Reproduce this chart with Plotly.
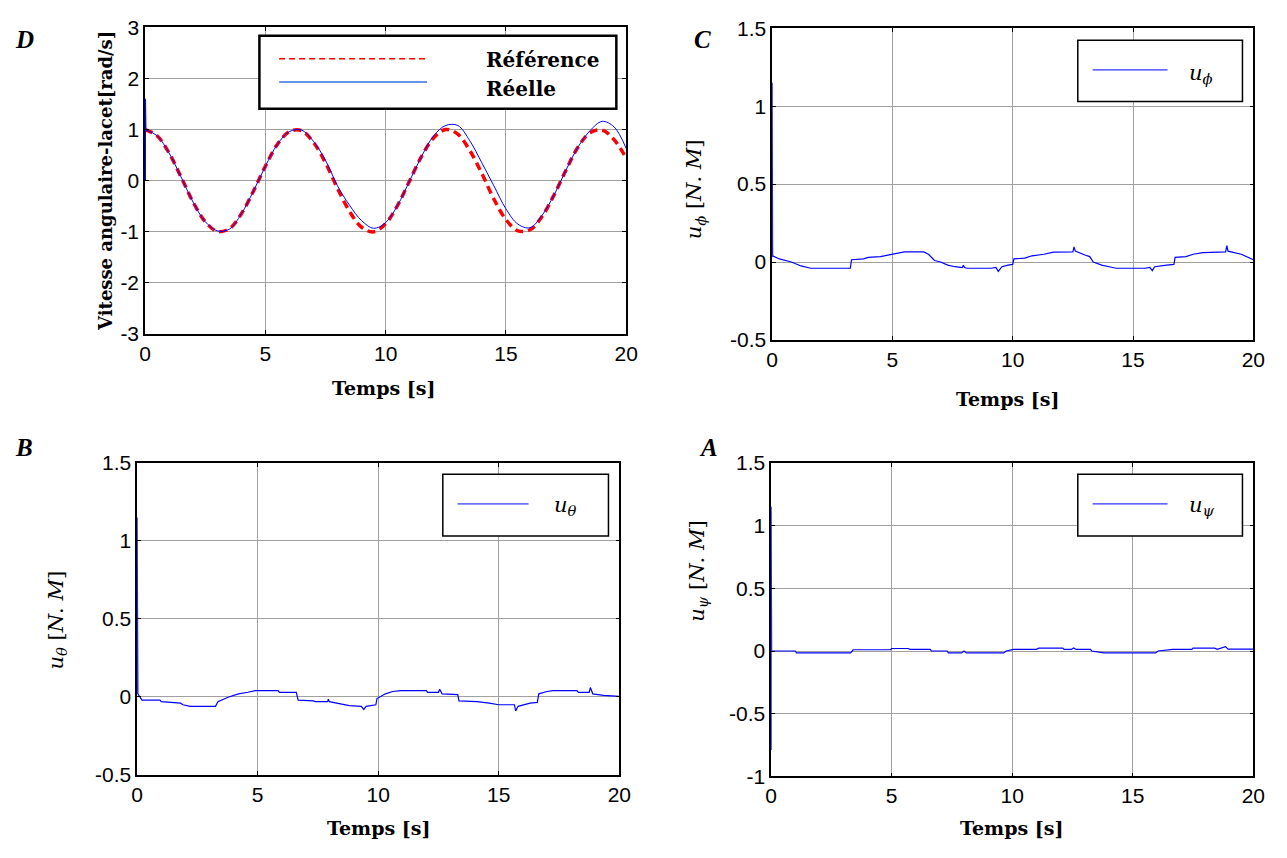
import plotly.graph_objects as go

W, H = 1287, 858

# ---------------- data ----------------
# Panel D : yaw angular velocity
t_d = [0, 0.5, 1, 1.5, 2, 2.5, 3, 3.5, 4, 4.5, 5, 5.5, 6, 6.5, 7, 7.5, 8, 8.5, 9, 9.5,
       10, 10.5, 11, 11.5, 12, 12.5, 13, 13.5, 14, 14.5, 15, 15.5, 16, 16.5, 17, 17.5,
       18, 18.5, 19, 19.5, 20]
ref_d = [1.00, 0.88, 0.54, 0.07, -0.42, -0.80, -0.99, -0.94, -0.65, -0.21, 0.28, 0.71,
         0.96, 0.98, 0.75, 0.35, -0.15, -0.60, -0.91, -1.00, -0.84, -0.48, 0.00, 0.48,
         0.84, 1.00, 0.91, 0.59, 0.14, -0.36, -0.76, -0.98, -0.96, -0.70, -0.28, 0.21,
         0.66, 0.94, 0.99, 0.80, 0.44]
real_d = [1.00, 0.88, 0.54, 0.07, -0.42, -0.80, -0.98, -0.95, -0.65, -0.21, 0.28, 0.71,
          0.96, 0.99, 0.77, 0.40, -0.10, -0.48, -0.78, -0.93, -0.82, -0.48, 0.00, 0.48,
          0.88, 1.08, 1.08, 0.78, 0.35, -0.10, -0.55, -0.85, -0.92, -0.68, -0.28, 0.21,
          0.66, 0.98, 1.16, 1.05, 0.63]
spike_d_t = [0, 0, 0.02]
spike_d_v = [0.0, 1.6, 1.0]

# Panel C : u_phi
t_c = [0, 0, 0.02, 0.3, 0.8, 1.2, 1.5, 1.6, 3.25, 3.3, 3.8, 4.0, 4.5, 4.8, 5.0, 5.5, 6.3,
       6.5, 6.75, 7.0, 7.3, 7.6, 7.9, 7.95, 8.0, 8.1, 9.1, 9.3, 9.4, 9.55, 9.8, 10.0,
       10.05, 10.5, 10.8, 11.3, 11.7, 12.5, 12.55, 12.6, 13.0, 13.2, 13.35, 13.7, 14.0,
       14.3, 15.5, 15.7, 15.8, 15.9, 16.4, 16.7, 16.75, 17.2, 17.5, 17.9, 18.85, 18.9,
       18.95, 19.5, 20.0]
u_c = [0.03, 1.15, 0.04, 0.02, 0.0, -0.025, -0.035, -0.04, -0.04, 0.015, 0.02, 0.03,
       0.035, 0.045, 0.05, 0.065, 0.065, 0.05, 0.01, 0.0, -0.02, -0.03, -0.035, -0.02,
       -0.035, -0.04, -0.04, -0.035, -0.06, -0.03, -0.02, -0.015, 0.02, 0.025, 0.04,
       0.05, 0.064, 0.065, 0.097, 0.07, 0.045, 0.035, 0.0, -0.02, -0.03, -0.04, -0.04,
       -0.035, -0.055, -0.03, -0.02, -0.015, 0.03, 0.035, 0.05, 0.06, 0.065, 0.105,
       0.07, 0.05, 0.015]

# Panel B : u_theta
t_b = [0, 0, 0.03, 0.2, 0.95, 1.0, 1.8, 1.9, 2.2, 3.25, 3.35, 3.8, 4.2, 4.6, 4.9, 5.85,
       5.9, 6.6, 6.68, 7.3, 7.4, 7.9, 7.93, 7.97, 8.3, 8.8, 9.3, 9.4, 9.5, 9.9, 9.95,
       10.3, 10.6, 10.95, 12.0, 12.05, 12.5, 12.55, 12.65, 13.3, 13.35, 14.1, 14.6,
       15.0, 15.65, 15.7, 15.8, 16.3, 16.6, 16.66, 17.0, 17.25, 18.25, 18.3, 18.75,
       18.8, 18.9, 19.35, 20.0]
u_b = [0.02, 1.15, 0.02, -0.02, -0.02, -0.03, -0.04, -0.05, -0.06, -0.06, -0.03, 0.0,
       0.02, 0.03, 0.04, 0.04, 0.03, 0.03, -0.02, -0.025, -0.03, -0.03, -0.015, -0.03,
       -0.04, -0.055, -0.06, -0.08, -0.06, -0.05, -0.01, 0.02, 0.035, 0.04, 0.04, 0.03,
       0.03, 0.05, 0.02, 0.015, -0.025, -0.03, -0.04, -0.05, -0.05, -0.09, -0.06, -0.04,
       -0.035, 0.02, 0.035, 0.04, 0.04, 0.03, 0.03, 0.06, 0.02, 0.01, 0.004]

# Panel A : u_psi
t_a = [0, 0, 0.02, 1.0, 1.05, 3.3, 3.4, 4.95, 5.0, 5.7, 5.75, 6.6, 6.65, 7.3, 7.35, 7.9,
       8.0, 8.1, 9.65, 9.75, 10.05, 11.0, 11.1, 12.1, 12.15, 12.45, 12.55, 12.65, 13.25,
       13.3, 13.8, 15.95, 16.05, 16.65, 17.45, 17.5, 18.4, 18.5, 18.85, 18.95, 20.0]
u_a = [-0.79, 1.15, 0.0, 0.0, -0.015, -0.015, 0.01, 0.01, 0.02, 0.02, 0.013, 0.013, 0.0,
       0.0, -0.015, -0.015, 0.0, -0.015, -0.015, 0.0, 0.013, 0.013, 0.023, 0.023, 0.013,
       0.013, 0.025, 0.013, 0.013, 0.0, -0.015, -0.015, 0.0, 0.013, 0.013, 0.023, 0.023,
       0.013, 0.035, 0.015, 0.015]

x_ticks = [0, 5, 10, 15, 20]
x_ticktext = ["0", "5", "10", "15", "20"]
yD_ticks = [-3, -2, -1, 0, 1, 2, 3]
yD_text = ["-3", "-2", "-1", "0", "1", "2", "3"]
yCB_ticks = [-0.5, 0, 0.5, 1, 1.5]
yCB_text = ["-0.5", "0", "0.5", "1", "1.5"]
yA_ticks = [-1, -0.5, 0, 0.5, 1, 1.5]
yA_text = ["-1", "-0.5", "0", "0.5", "1", "1.5"]

# ---------------- helpers ----------------
def px(x):
    return x / W

def py(y):
    return 1 - y / H

BLUE = "#0000ff"
TICKFONT = dict(family="Liberation Sans", size=21, color="black")
TITLEFONT = dict(family="DejaVu Serif", size=19, color="black")
MATHFONT = dict(family="DejaVu Serif", size=21, color="black")

def xaxis(x0, x1, anchor):
    return dict(domain=[px(x0), px(x1)], range=[0, 20], anchor=anchor,
                tickvals=x_ticks, ticktext=x_ticktext, ticks="inside", ticklen=4,
                tickcolor="black", mirror="ticks", showline=True, linecolor="black",
                linewidth=1.5, showgrid=True, gridcolor="#a0a0a0", gridwidth=1,
                zeroline=False, tickfont=TICKFONT, fixedrange=True)

def yaxis(y0, y1, rng, tv, tt, anchor):
    return dict(domain=[py(y1), py(y0)], range=rng, anchor=anchor,
                tickvals=tv, ticktext=tt, ticks="inside", ticklen=4,
                tickcolor="black", mirror="ticks", showline=True, linecolor="black",
                linewidth=1.5, showgrid=True, gridcolor="#a0a0a0", gridwidth=1,
                zeroline=False, tickfont=TICKFONT, fixedrange=True)

fig = go.Figure()

# Panel D
fig.add_trace(go.Scatter(x=t_d, y=ref_d, mode="lines", line=dict(color="#ff0000", width=3.5, dash="8px,5px", shape="spline"),
                         xaxis="x", yaxis="y", showlegend=False))
fig.add_trace(go.Scatter(x=t_d, y=real_d, mode="lines", line=dict(color=BLUE, width=1, shape="spline"),
                         xaxis="x", yaxis="y", showlegend=False))
fig.add_trace(go.Scatter(x=spike_d_t, y=spike_d_v, mode="lines", line=dict(color=BLUE, width=2),
                         xaxis="x", yaxis="y", showlegend=False))
# Panel C
fig.add_trace(go.Scatter(x=t_c, y=u_c, mode="lines", line=dict(color=BLUE, width=1.2),
                         xaxis="x2", yaxis="y2", showlegend=False))
# Panel B
fig.add_trace(go.Scatter(x=t_b, y=u_b, mode="lines", line=dict(color=BLUE, width=1.2),
                         xaxis="x3", yaxis="y3", showlegend=False))
# Panel A
fig.add_trace(go.Scatter(x=t_a, y=u_a, mode="lines", line=dict(color=BLUE, width=1.2),
                         xaxis="x4", yaxis="y4", showlegend=False))

# plot areas (pixels)
D = (141, 629, 15.7, 331)
C = (777, 1265, 16.7, 337)
B = (133, 622, 463.3, 784)
A = (776, 1265, 463.3, 785.5)

fig.update_layout(
    width=W, height=H, margin=dict(l=0, r=0, t=0, b=0),
    paper_bgcolor="white", plot_bgcolor="white",
    xaxis=xaxis(D[0], D[1], "y"),
    yaxis=yaxis(D[2], D[3], [-3, 3], yD_ticks, yD_text, "x"),
    xaxis2=xaxis(C[0], C[1], "y2"),
    yaxis2=yaxis(C[2], C[3], [-0.5, 1.5], yCB_ticks, yCB_text, "x2"),
    xaxis3=xaxis(B[0], B[1], "y3"),
    yaxis3=yaxis(B[2], B[3], [-0.5, 1.5], yCB_ticks, yCB_text, "x3"),
    xaxis4=xaxis(A[0], A[1], "y4"),
    yaxis4=yaxis(A[2], A[3], [-1, 1.5], yA_ticks, yA_text, "x4"),
    showlegend=False,
)

shapes = []
annotations = []

def box(x0, y0, x1, y1, w):
    shapes.append(dict(type="rect", xref="paper", yref="paper", x0=px(x0), x1=px(x1),
                       y0=py(y1), y1=py(y0), line=dict(color="black", width=w),
                       fillcolor="white", layer="above"))

def seg(x0, x1, y, color, w, dash="solid"):
    shapes.append(dict(type="line", xref="paper", yref="paper", x0=px(x0), x1=px(x1),
                       y0=py(y), y1=py(y), line=dict(color=color, width=w, dash=dash),
                       layer="above"))

def text(x, y, s, font, angle=0, xanchor="center"):
    annotations.append(dict(x=px(x), y=py(y), xref="paper", yref="paper", text=s,
                            showarrow=False, font=font, textangle=angle,
                            xanchor=xanchor, yanchor="middle"))

# Legends
box(257, 24.5, 619, 99.5, 2.5)
seg(277, 427, 48, "#ff0000", 1.5, "6px,4px")
seg(277, 427, 72, "#3a70e0", 1.5)
LEGFONT = dict(family="DejaVu Serif", size=20, color="black")
text(485, 49, "<b>Référence</b>", LEGFONT, xanchor="left")
text(485, 79, "<b>Réelle</b>", LEGFONT, xanchor="left")

box(1087, 29, 1254, 92, 1.5)
seg(1102, 1178, 59.5, "#3030ff", 1.3)
text(1198, 64, "<i>u</i><sub><i>ϕ</i></sub>", MATHFONT, xanchor="left")

box(443, 475, 611, 538.5, 1.5)
seg(458, 530, 505.5, "#7070ff", 1.8)
text(554, 508, "<i>u</i><sub><i>θ</i></sub>", MATHFONT, xanchor="left")

box(1087, 475, 1254, 538.5, 1.5)
seg(1102, 1178, 505.5, "#3030ff", 1.3)
text(1198, 508, "<i>u</i><sub><i>ψ</i></sub>", MATHFONT, xanchor="left")

# Axis titles
text(383, 386, "<b>Temps [s]</b>", TITLEFONT)
text(1016, 398, "<b>Temps [s]</b>", TITLEFONT)
text(378, 838, "<b>Temps [s]</b>", TITLEFONT)
text(1020, 838, "<b>Temps [s]</b>", TITLEFONT)
text(101, 174, "<b>Vitesse angulaire-lacet[rad/s]</b>", dict(family="DejaVu Serif", size=18, color="black"), angle=-90)
text(699, 182, "<i>u</i><sub><i>ϕ</i></sub> [<i>N</i>. <i>M</i>]", MATHFONT, angle=-90)
text(52, 625, "<i>u</i><sub><i>θ</i></sub> [<i>N</i>. <i>M</i>]", MATHFONT, angle=-90)
text(701, 575, "<i>u</i><sub><i>ψ</i></sub> [<i>N</i>. <i>M</i>]", MATHFONT, angle=-90)

# Panel letters
LETTER = dict(family="Liberation Serif", size=25, color="black")
text(19, 28, "<b><i>D</i></b>", LETTER)
text(706, 28, "<b><i>C</i></b>", LETTER)
text(18, 447, "<b><i>B</i></b>", LETTER)
text(712, 447, "<b><i>A</i></b>", LETTER)

fig.update_layout(shapes=shapes, annotations=annotations)
fig.write_html("out.html")
